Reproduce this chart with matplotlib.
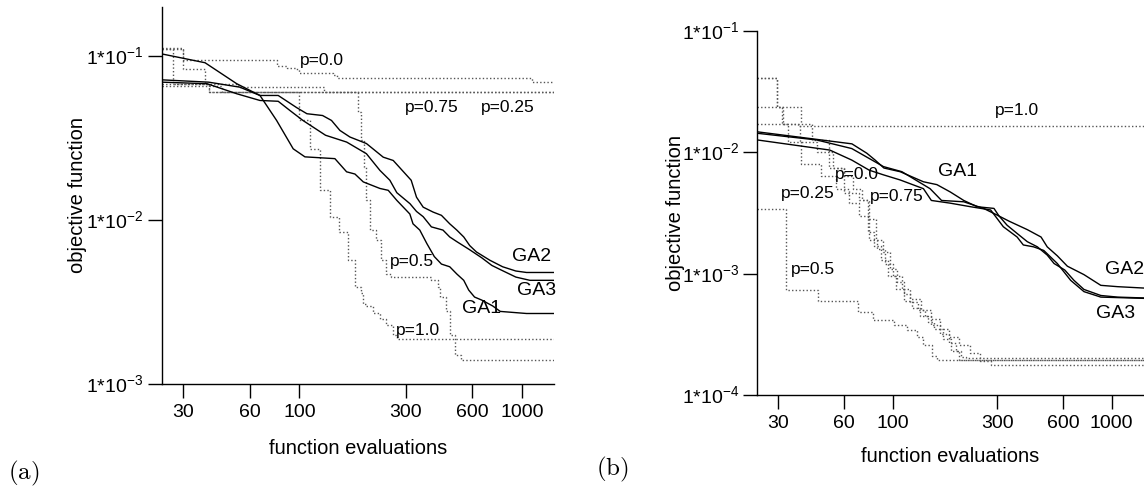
import matplotlib
matplotlib.use('Agg')
import matplotlib.pyplot as plt
from matplotlib.ticker import FixedLocator, FixedFormatter, NullLocator

plt.rcParams['font.family'] = ['Liberation Sans', 'DejaVu Sans']

# ---------------- data ----------------
x_ticks = [30, 60, 100, 300, 600, 1000]
x_ticklabels = ['30', '60', '100', '300', '600', '1000']

# panel (a)
a_yticks = [1e-3, 1e-2, 1e-1]
a_yticklabels = [r'1*10$^{\mathregular{-3}}$', r'1*10$^{\mathregular{-2}}$', r'1*10$^{\mathregular{-1}}$']

a_ga1_x = [24, 37.6, 52.2, 66.4, 78.9, 93.7, 105.8, 144.3, 162.9, 177.6, 193.6, 230, 250.7, 274, 313.6, 324,
           347.6, 374, 404, 435, 474, 510, 548, 577, 613, 660, 740, 800, 1050, 1400]
a_ga1_y = [0.103, 0.091, 0.0678, 0.0575, 0.0405, 0.0272, 0.0243, 0.0237, 0.0197, 0.0191, 0.0171, 0.0156, 0.0152,
           0.0132, 0.0109, 0.0095, 0.0087, 0.0072, 0.0060, 0.0054, 0.0052, 0.0047, 0.0043, 0.00375, 0.0034,
           0.00326, 0.0030, 0.00278, 0.0027, 0.0027]
a_ga2_x = [24, 39, 53.9, 66.4, 80.2, 97.3, 108, 127, 139.3, 152, 168.6, 200, 238, 264, 318, 336, 360, 399, 435,
           474, 510, 548, 583, 625, 718, 820, 940, 1050, 1400]
a_ga2_y = [0.0716, 0.0693, 0.0646, 0.0575, 0.0575, 0.0484, 0.0445, 0.0434, 0.0405, 0.0352, 0.0321, 0.0293,
           0.0242, 0.0231, 0.0175, 0.0138, 0.0120, 0.0112, 0.0107, 0.0095, 0.0087, 0.0079, 0.0070, 0.0064,
           0.0057, 0.0052, 0.0049, 0.0048, 0.0048]
a_ga3_x = [24, 38.4, 52.2, 66.4, 80.2, 90.5, 103.6, 131, 163, 200, 230, 255, 274, 314, 336, 360, 392, 442, 474,
           510, 583, 660, 733, 800, 940, 1087, 1400]
a_ga3_y = [0.0693, 0.0678, 0.0589, 0.0536, 0.053, 0.0466, 0.0405, 0.0329, 0.0299, 0.0254, 0.0201, 0.0175,
           0.0147, 0.0126, 0.0113, 0.0105, 0.0091, 0.0087, 0.0079, 0.0074, 0.0066, 0.0059, 0.0053, 0.0050,
           0.0045, 0.0043, 0.0043]

a_p00_x = [24, 30, 79, 88, 96, 100, 141, 147, 231, 1110, 1400]
a_p00_y = [0.112, 0.095, 0.087, 0.085, 0.083, 0.079, 0.077, 0.0737, 0.073, 0.069, 0.069]
a_p025_x = [24, 27, 39, 1400]
a_p025_y = [0.111, 0.068, 0.0602, 0.0602]
a_p075_x = [24, 30, 37.6, 53, 129, 1400]
a_p075_y = [0.111, 0.0836, 0.0678, 0.0652, 0.0602, 0.0602]
a_p10_x = [24, 39, 99, 111.5, 123.6, 137, 150, 165, 177, 190, 193, 200, 215, 230, 246, 264, 274, 1400]
a_p10_y = [0.068, 0.0602, 0.0405, 0.027, 0.0152, 0.0105, 0.0085, 0.0057, 0.0039, 0.0036, 0.0031, 0.0030,
           0.0027, 0.0025, 0.0023, 0.0020, 0.00188, 0.00188]
a_p05_x = [24, 45, 184, 190, 195, 200, 207, 221, 233, 246, 259, 392, 420, 427, 458, 474, 500, 535, 1400]
a_p05_y = [0.066, 0.0602, 0.0456, 0.0306, 0.021, 0.0132, 0.0087, 0.0076, 0.0057, 0.0047, 0.0045, 0.0043,
           0.0039, 0.0034, 0.0028, 0.0020, 0.0015, 0.00141, 0.00141]

a_labels = ['p=0.0', 'p=0.75', 'p=0.25', 'p=0.5', 'p=1.0', 'GA2', 'GA3', 'GA1']
a_label_x = [125.6, 393, 868, 319, 342, 1106, 1165, 659]
a_label_y = [0.094, 0.0489, 0.0489, 0.00557, 0.00214, 0.00597, 0.00375, 0.0029]

# panel (b)
b_yticks = [1e-4, 1e-3, 1e-2, 1e-1]
b_yticklabels = [r'1*10$^{\mathregular{-4}}$', r'1*10$^{\mathregular{-3}}$', r'1*10$^{\mathregular{-2}}$',
                 r'1*10$^{\mathregular{-1}}$']

b_ga1_x = [24, 65, 76, 83, 91, 108, 138, 159, 183, 211, 243, 290, 305, 333, 370, 412, 458, 508, 546, 611, 673,
           748, 893, 1066, 1400]
b_ga1_y = [0.0147, 0.0117, 0.0098, 0.0086, 0.0074, 0.0069, 0.0057, 0.0054, 0.0047, 0.0040, 0.00355, 0.00344,
           0.0030, 0.0025, 0.00214, 0.00183, 0.00166, 0.00142, 0.00121, 0.00107, 0.00088, 0.00074, 0.00066,
           0.00064, 0.00063]
b_ga2_x = [24, 44.8, 64.9, 90.6, 110, 148, 167, 211, 260, 300, 340, 412, 476, 508, 565, 628, 748, 893, 1066, 1400]
b_ga2_y = [0.0143, 0.0126, 0.0107, 0.0076, 0.0069, 0.0050, 0.0040, 0.0039, 0.00344, 0.00303, 0.0027, 0.0023,
           0.0020, 0.00166, 0.0014, 0.00115, 0.00098, 0.0008, 0.00078, 0.00076]
b_ga3_x = [24, 51.5, 64.9, 78, 90.6, 108, 138, 150, 183, 227, 280, 320, 370, 395, 440, 490, 565, 650, 748, 893,
           1400]
b_ga3_y = [0.0126, 0.0104, 0.0086, 0.0071, 0.0065, 0.0059, 0.0050, 0.0040, 0.0038, 0.00355, 0.00334, 0.00243,
           0.0020, 0.00172, 0.00166, 0.00155, 0.00121, 0.00088, 0.00071, 0.00064, 0.000625]

b_p10_x = [24, 29.6, 31.5, 37, 1400]
b_p10_y = [0.041, 0.0234, 0.0172, 0.0165, 0.0165]
b_p05_x = [24, 32.4, 45.6, 69.5, 81.4, 100.7, 116, 129, 138, 151, 159, 1400]
b_p05_y = [0.0034, 0.00073, 0.00059, 0.000485, 0.000414, 0.000377, 0.00034, 0.0003, 0.00026, 0.00021,
           0.000194, 0.000194]
b_p00_x = [24, 31, 37.6, 45, 53, 60, 66, 72, 77, 84, 90, 97, 104, 112, 120, 130, 140, 150, 165, 180, 195, 205,
           215, 1400]
b_p00_y = [0.0234, 0.0171, 0.0121, 0.0101, 0.0074, 0.0064, 0.0050, 0.0040, 0.0028, 0.0019, 0.0015, 0.0011,
           0.00085, 0.00068, 0.00058, 0.00050, 0.00045, 0.00038, 0.00032, 0.00027, 0.00023, 0.000205, 0.0002,
           0.0002]
b_p025_x = [24, 33, 38, 47, 55, 63, 70, 77, 82, 88, 95, 103, 112, 122, 133, 145, 155, 170, 185, 200, 1400]
b_p025_y = [0.0171, 0.0121, 0.0080, 0.0064, 0.0050, 0.0038, 0.0030, 0.0022, 0.0017, 0.0013, 0.00095, 0.00075,
            0.00060, 0.00052, 0.00045, 0.00040, 0.00035, 0.00029, 0.00023, 0.000195, 0.000195]
b_p075_x = [24, 29.6, 38.2, 42.5, 51, 60, 70, 78, 85, 92, 100, 110, 120, 135, 150, 165, 180, 200, 225, 250, 280,
            1400]
b_p075_y = [0.041, 0.0234, 0.0171, 0.0125, 0.0074, 0.0046, 0.0040, 0.0019, 0.0016, 0.0012, 0.00095, 0.00075,
            0.00062, 0.00050, 0.00042, 0.00035, 0.00030, 0.00026, 0.00022, 0.00019, 0.000176, 0.000176]

b_labels = ['p=1.0', 'GA1', 'p=0.0', 'p=0.25', 'p=0.75', 'p=0.5', 'GA2', 'GA3']
b_label_x = [370, 197, 68.4, 40.9, 104, 43.2, 1141, 1047]
b_label_y = [0.0222, 0.0069, 0.0065, 0.0046, 0.0043, 0.00107, 0.00109, 0.00047]

# ---------------- figure ----------------
W, H = 1144, 488
fig = plt.figure(figsize=(W / 100, H / 100), dpi=100)


def add_axes(l, t, r, b):
    return fig.add_axes([l / W, 1 - b / H, (r - l) / W, (b - t) / H])


axA = add_axes(161.7, 6.6, 554.3, 384.3)
axB = add_axes(757.3, 30.7, 1143.5, 395)

SOLID = dict(color='black', lw=1.0, solid_joinstyle='round')
DOT = dict(color='#555555', lw=1.0, linestyle=(0, (1, 1.6)), drawstyle='steps-post')


def style(ax, ylim, yticks, ylabels, xlab_y, ylab_x):
    ax.set_xscale('log')
    ax.set_yscale('log')
    ax.set_xlim(24, 1400)
    ax.set_ylim(*ylim)
    for s in ['top', 'right']:
        ax.spines[s].set_visible(False)
    for s in ['left', 'bottom']:
        ax.spines[s].set_linewidth(1.0)
    ax.xaxis.set_major_locator(FixedLocator(x_ticks))
    ax.xaxis.set_major_formatter(FixedFormatter(x_ticklabels))
    ax.xaxis.set_minor_locator(NullLocator())
    ax.yaxis.set_major_locator(FixedLocator(yticks))
    ax.yaxis.set_major_formatter(FixedFormatter(ylabels))
    ax.yaxis.set_minor_locator(NullLocator())
    ax.tick_params(axis='x', length=10, width=1, pad=4.5, labelsize=14)
    ax.tick_params(axis='y', length=10, width=1, pad=3, labelsize=14)
    ax.set_xlabel('function evaluations', fontsize=14.5, va='center')
    ax.set_ylabel('objective function', fontsize=14.5, va='center')
    ax.xaxis.set_label_coords(0.5, xlab_y)
    ax.yaxis.set_label_coords(ylab_x, 0.5)
    ax.patch.set_visible(False)


# panel (a)
for xs, ys in [(a_p00_x, a_p00_y), (a_p025_x, a_p025_y), (a_p075_x, a_p075_y),
               (a_p10_x, a_p10_y), (a_p05_x, a_p05_y)]:
    axA.plot(xs, ys, **DOT)
for xs, ys in [(a_ga1_x, a_ga1_y), (a_ga2_x, a_ga2_y), (a_ga3_x, a_ga3_y)]:
    axA.plot(xs, ys, **SOLID)
for t, x, y in zip(a_labels, a_label_x, a_label_y):
    axA.text(x, y, t, ha='center', va='center', fontsize=14 if t.startswith('GA') else 12.5,
             clip_on=False)
style(axA, (1e-3, 0.2), a_yticks, a_yticklabels, -0.1687, -0.2142)

# panel (b)
for xs, ys in [(b_p10_x, b_p10_y), (b_p05_x, b_p05_y), (b_p00_x, b_p00_y),
               (b_p025_x, b_p025_y), (b_p075_x, b_p075_y)]:
    axB.plot(xs, ys, **DOT)
for xs, ys in [(b_ga1_x, b_ga1_y), (b_ga2_x, b_ga2_y), (b_ga3_x, b_ga3_y)]:
    axB.plot(xs, ys, **SOLID)
for t, x, y in zip(b_labels, b_label_x, b_label_y):
    axB.text(x, y, t, ha='center', va='center', fontsize=14 if t.startswith('GA') else 12.5,
             clip_on=False)
style(axB, (1e-4, 1e-1), b_yticks, b_yticklabels, -0.170, -0.2108)

fig.text(24 / W, 1 - 473 / H, r'$\mathrm{(a)}$', fontsize=18, math_fontfamily='cm',
         ha='center', va='center')
fig.text(612 / W, 1 - 469 / H, r'$\mathrm{(b)}$', fontsize=18, math_fontfamily='cm',
         ha='center', va='center')

fig.savefig('out.png', dpi=100)
